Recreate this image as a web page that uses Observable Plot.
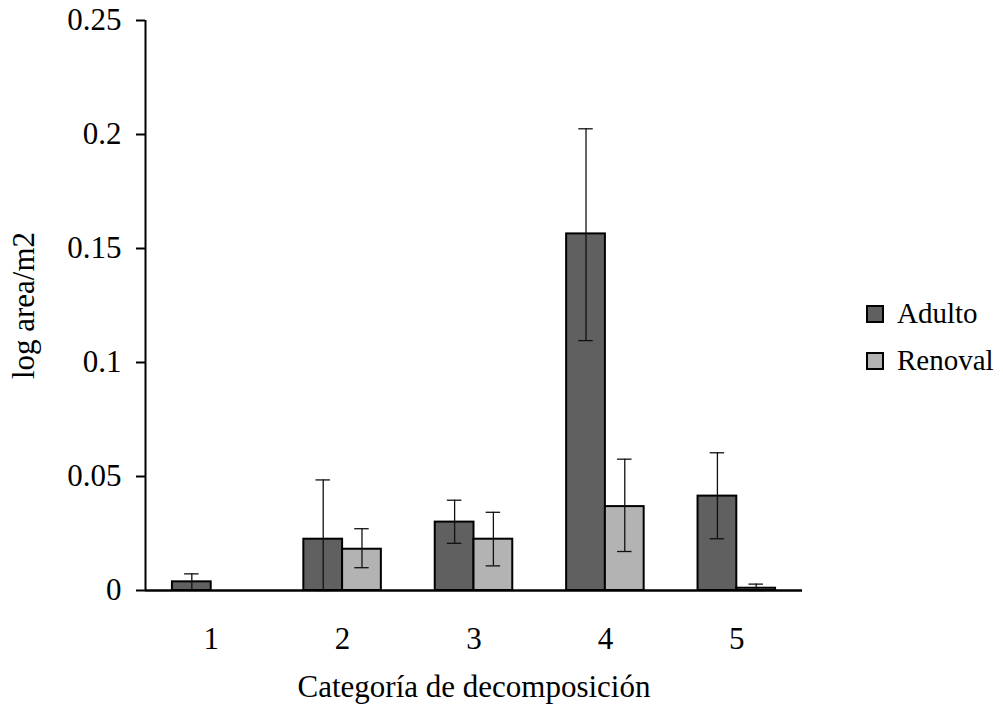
<!DOCTYPE html>
<html>
<head>
<meta charset="utf-8">
<script src="https://cdn.jsdelivr.net/npm/d3@7"></script>
<script src="https://cdn.jsdelivr.net/npm/@observablehq/plot@0.6"></script>
<style>
  html, body { margin: 0; padding: 0; background: #fff; }
  #wrap { position: relative; width: 1003px; height: 704px; font-family: "Liberation Serif", "Times New Roman", serif; }
  #legend { position: absolute; left: 866px; top: 290px; font-size: 29px; color: #000; }
  #legend .item { display: flex; align-items: center; height: 47px; }
  #legend .sw { width: 14px; height: 14px; border: 2px solid #000; margin-right: 13px; box-sizing: content-box; }
  svg .y-title, svg .x-title { font-size: 32px; }
</style>
</head>
<body>
<div id="wrap"><div id="legend"></div></div>
<script>
// Decomposition categories and the two stand types
const categories = [1, 2, 3, 4, 5];
const series = ["Adulto", "Renoval"];
const colors = ["#606060", "#b3b3b3"];

// Mean log area per m2 with lower / upper error bounds (null = no value)
const adultoMean  = [0.0038, 0.0225, 0.0300, 0.1564, 0.0414];
const adultoLow   = [0.0003, 0.0000, 0.0207, 0.1096, 0.0227];
const adultoHigh  = [0.0073, 0.0485, 0.0396, 0.2025, 0.0604];
const renovalMean = [null,   0.0181, 0.0225, 0.0368, 0.0010];
const renovalLow  = [null,   0.0100, 0.0108, 0.0171, 0.0000];
const renovalHigh = [null,   0.0271, 0.0343, 0.0576, 0.0028];

const yTicks = [0, 0.05, 0.1, 0.15, 0.2, 0.25];
const yTickLabels = ["0", "0.05", "0.1", "0.15", "0.2", "0.25"];

// Bar width and error-cap half width in category units
const barW = 0.295;
const capHalf = 0.055;

const table = [];
categories.forEach((c, i) => {
  [[adultoMean, adultoLow, adultoHigh], [renovalMean, renovalLow, renovalHigh]].forEach(([m, lo, hi], s) => {
    if (m[i] == null) return;
    const x1 = s === 0 ? c - barW : c;
    const x2 = s === 0 ? c : c + barW;
    table.push({cat: c, series: series[s], value: m[i], low: lo[i], high: hi[i], x1, x2, xc: (x1 + x2) / 2});
  });
});

const xDomain = [categories[0] - 0.5, categories[categories.length - 1] + 0.5];

const chart = Plot.plot({
  width: 1003,
  height: 704,
  marginLeft: 145,
  marginRight: 201,
  marginTop: 20,
  marginBottom: 114,
  style: {fontFamily: "Liberation Serif, Times New Roman, serif", fontSize: "31px", color: "#000", background: "#fff"},
  x: {domain: xDomain},
  y: {domain: [0, 0.25]},
  color: {domain: series, range: colors},
  marks: [
    Plot.rectY(table, {x1: "x1", x2: "x2", y: "value", fill: "series", stroke: "#000", strokeWidth: 2}),
    Plot.ruleX(table, {x: "xc", y1: "low", y2: "high", stroke: "#111", strokeWidth: 1.3}),
    Plot.ruleY(table, {x1: d => d.xc - capHalf, x2: d => d.xc + capHalf, y: "high", stroke: "#111", strokeWidth: 1.3}),
    Plot.ruleY(table, {x1: d => d.xc - capHalf, x2: d => d.xc + capHalf, y: "low", stroke: "#111", strokeWidth: 1.3}),
    Plot.ruleX([xDomain[0]], {stroke: "#000", strokeWidth: 2}),
    Plot.ruleY([0], {stroke: "#000", strokeWidth: 2.5}),
    Plot.axisY({
      ticks: yTicks,
      tickFormat: (d) => yTickLabels[yTicks.indexOf(d)],
      tickSize: 9,
      tickPadding: 15,
      strokeWidth: 2,
      label: null
    }),
    Plot.axisY({
      ticks: [],
      tickSize: 0,
      label: "log area/m2",
      labelAnchor: "center",
      labelArrow: "none",
      labelOffset: 134,
      className: "y-title"
    }),
    Plot.axisX({
      ticks: categories,
      tickFormat: d => String(d),
      tickSize: 0,
      tickPadding: 36,
      label: null
    }),
    Plot.axisX({
      ticks: [],
      tickSize: 0,
      label: "Categoría de decomposición",
      labelAnchor: "center",
      labelArrow: "none",
      labelOffset: 106,
      className: "x-title"
    })
  ]
});
document.getElementById("wrap").prepend(chart);

// Legend
const legend = document.getElementById("legend");
series.forEach((s, i) => {
  const item = document.createElement("div");
  item.className = "item";
  const sw = document.createElement("span");
  sw.className = "sw";
  sw.style.background = colors[i];
  const t = document.createElement("span");
  t.textContent = s;
  item.append(sw, t);
  legend.append(item);
});
</script>
</body>
</html>
